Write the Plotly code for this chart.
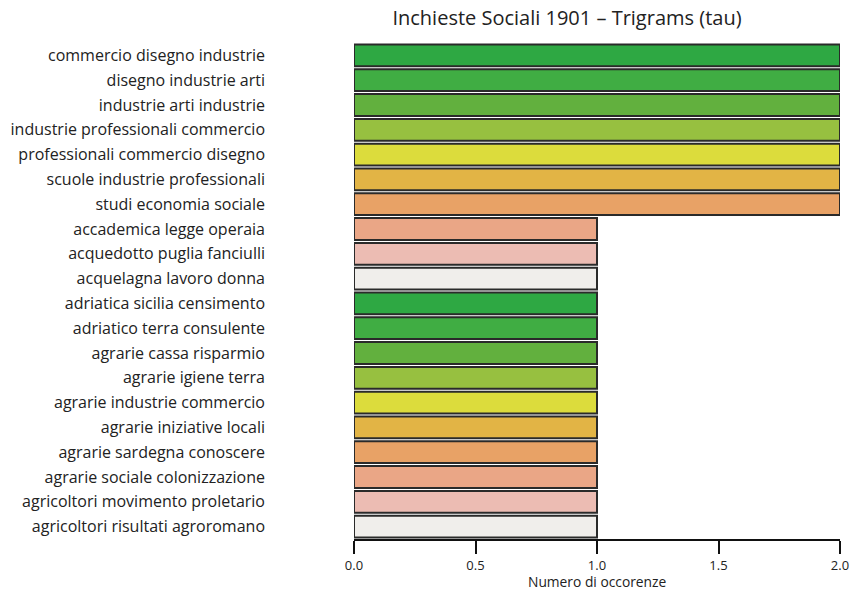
import plotly.graph_objects as go

trigrams = [
    "commercio disegno industrie",
    "disegno industrie arti",
    "industrie arti industrie",
    "industrie professionali commercio",
    "professionali commercio disegno",
    "scuole industrie professionali",
    "studi economia sociale",
    "accademica legge operaia",
    "acquedotto puglia fanciulli",
    "acquelagna lavoro donna",
    "adriatica sicilia censimento",
    "adriatico terra consulente",
    "agrarie cassa risparmio",
    "agrarie igiene terra",
    "agrarie industrie commercio",
    "agrarie iniziative locali",
    "agrarie sardegna conoscere",
    "agrarie sociale colonizzazione",
    "agricoltori movimento proletario",
    "agricoltori risultati agroromano",
]
counts = [2, 2, 2, 2, 2, 2, 2, 1, 1, 1, 1, 1, 1, 1, 1, 1, 1, 1, 1, 1]
palette = ["#2ea843", "#40ad43", "#62b03e", "#97c040", "#dcdc3c",
           "#e2b445", "#e8a266", "#eaa686", "#ecbcb3", "#f0eeeb"]
colors = [palette[i % len(palette)] for i in range(len(trigrams))]
x_ticks = [0.0, 0.5, 1.0, 1.5, 2.0]
x_tick_labels = ["0.0", "0.5", "1.0", "1.5", "2.0"]

font = "Open Sans, Lato, sans-serif"

fig = go.Figure(go.Bar(
    x=counts, y=trigrams, orientation="h",
    marker=dict(color=colors, line=dict(color="#2a2a2a", width=2)),
    hoverinfo="x+y",
))

fig.update_layout(
    width=852, height=589,
    margin=dict(l=354, r=12, t=43, b=50, autoexpand=False),
    plot_bgcolor="white", paper_bgcolor="white",
    bargap=0.12,
    showlegend=False,
    title=dict(text="Inchieste Sociali 1901 – Trigrams (tau)",
               x=0.6655, xanchor="center", y=0.969, yanchor="middle",
               font=dict(family=font, size=20, color="#222")),
    font=dict(family=font, color="#222"),
    annotations=[dict(
        text="Numero di occorenze", xref="paper", yref="paper",
        x=0.5, y=-0.0847, xanchor="center", yanchor="middle",
        showarrow=False, font=dict(size=13.8, family=font, color="#222"),
    )],
)
fig.update_xaxes(
    range=[0, 2], tickvals=x_ticks, ticktext=x_tick_labels,
    showgrid=False, zeroline=False, automargin=False,
    showline=True, linecolor="#111", linewidth=2,
    ticks="outside", ticklen=13, tickwidth=2, tickcolor="#111",
    tickfont=dict(size=13, family=font, color="#222"),
)
fig.update_yaxes(
    autorange="reversed", showgrid=False, zeroline=False, showline=False,
    automargin=False,
    ticks="", ticklabelstandoff=88,
    tickfont=dict(size=16, family=font, color="#222"),
)

fig.write_html(
    "out.html",
    config={"displayModeBar": False},
    post_script="document.body.style.margin='0';document.body.style.overflow='hidden';",
)
